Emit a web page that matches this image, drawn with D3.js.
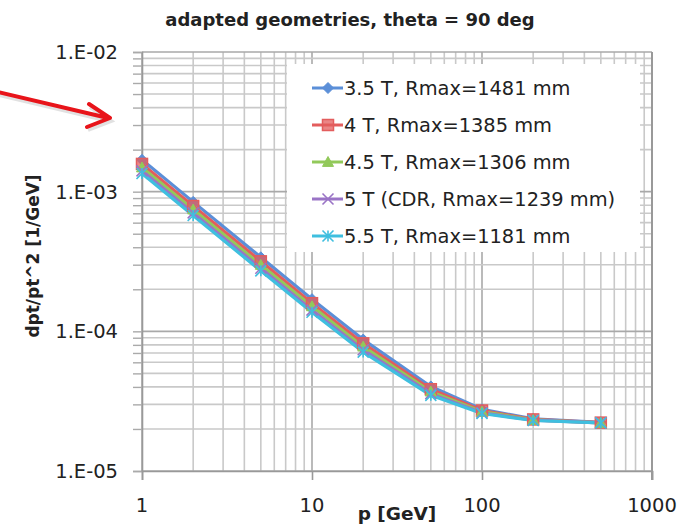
<!DOCTYPE html>
<html>
<head>
<meta charset="utf-8">
<script src="https://cdn.jsdelivr.net/npm/d3@7"></script>
<style>
  body { margin: 0; background: #fff; }
  text { font-family: "DejaVu Sans", sans-serif; fill: #222; }
</style>
</head>
<body>
<div id="chart-area"></div>
<script>
// momentum points [GeV]
const momenta = [1, 2, 5, 10, 20, 50, 100, 200, 500];

// dpt/pt^2 [1/GeV] per field configuration
const b35 = [1.69e-3, 8.45e-4, 3.39e-4, 1.70e-4, 8.73e-5, 4.03e-5, 2.77e-5, 2.36e-5, 2.23e-5];
const b40 = [1.58e-3, 7.90e-4, 3.17e-4, 1.59e-4, 8.20e-5, 3.85e-5, 2.71e-5, 2.34e-5, 2.22e-5];
const b45 = [1.49e-3, 7.45e-4, 2.99e-4, 1.51e-4, 7.77e-5, 3.70e-5, 2.66e-5, 2.32e-5, 2.21e-5];
const b50 = [1.41e-3, 7.05e-4, 2.83e-4, 1.42e-4, 7.38e-5, 3.58e-5, 2.61e-5, 2.31e-5, 2.21e-5];
const b55 = [1.35e-3, 6.75e-4, 2.71e-4, 1.37e-4, 7.10e-5, 3.48e-5, 2.58e-5, 2.30e-5, 2.21e-5];

const seriesNames = [
    '3.5 T, Rmax=1481 mm',
    '4 T, Rmax=1385 mm',
    '4.5 T, Rmax=1306 mm',
    '5 T (CDR, Rmax=1239 mm)',
    '5.5 T, Rmax=1181 mm'
];
const seriesValues = [b35, b40, b45, b50, b55];
const colors = ['#5b8fd8', '#e35d5d', '#92c95a', '#9a74c6', '#3fbfdf'];
const markers = ['diamond', 'square', 'triangle', 'x', 'star'];

const yTickLabels = ['1.E-05', '1.E-04', '1.E-03', '1.E-02'];
const xTickLabels = ['1', '10', '100', '1000'];

const W = 687, H = 525;
const plot = { left: 142, right: 652, top: 52, bottom: 471 };

const svg = d3.select('#chart-area')
    .append('svg')
    .attr('width', W)
    .attr('height', H);

const x = d3.scaleLog().domain([1, 1000]).range([plot.left, plot.right]);
const y = d3.scaleLog().domain([1e-5, 1e-2]).range([plot.bottom, plot.top]);

const isMajor = v => Math.abs(Math.log10(v) - Math.round(Math.log10(v))) < 1e-9;

// gridlines
svg.append('g')
    .selectAll('line')
    .data(x.ticks())
    .enter()
    .append('line')
    .attr('x1', d => x(d)).attr('x2', d => x(d))
    .attr('y1', plot.top).attr('y2', plot.bottom)
    .attr('stroke', d => isMajor(d) ? '#a9a9a9' : '#c9c9c9')
    .attr('stroke-width', 1.6);

svg.append('g')
    .selectAll('line')
    .data(y.ticks())
    .enter()
    .append('line')
    .attr('x1', plot.left).attr('x2', plot.right)
    .attr('y1', d => y(d)).attr('y2', d => y(d))
    .attr('stroke', d => isMajor(d) ? '#a9a9a9' : '#c9c9c9')
    .attr('stroke-width', 1.6);

// axes
const yAxis = d3.axisLeft(y)
    .tickValues(y.ticks())
    .tickSize(9)
    .tickFormat('');
svg.append('g')
    .attr('transform', `translate(${plot.left},0)`)
    .call(yAxis)
    .call(g => g.select('.domain').attr('stroke', '#999').attr('stroke-width', 1.6))
    .call(g => g.selectAll('.tick line').attr('stroke', '#aaa').attr('stroke-width', 1.4));

const xAxis = d3.axisBottom(x)
    .tickValues([1, 10, 100, 1000])
    .tickSize(9)
    .tickFormat('');
svg.append('g')
    .attr('transform', `translate(0,${plot.bottom})`)
    .call(xAxis)
    .call(g => g.select('.domain').attr('stroke', '#999').attr('stroke-width', 1.6))
    .call(g => g.selectAll('.tick line').attr('stroke', '#999').attr('stroke-width', 1.6));

// right border
svg.append('line')
    .attr('x1', plot.right).attr('x2', plot.right)
    .attr('y1', plot.top).attr('y2', plot.bottom + 9)
    .attr('stroke', '#999').attr('stroke-width', 2);

// tick labels
svg.append('g')
    .selectAll('text')
    .data([1e-5, 1e-4, 1e-3, 1e-2])
    .enter()
    .append('text')
    .attr('x', 118)
    .attr('y', d => y(d))
    .attr('dy', '0.36em')
    .attr('text-anchor', 'end')
    .style('font-size', '19.5px')
    .text((d, i) => yTickLabels[i]);

svg.append('g')
    .selectAll('text')
    .data([1, 10, 100, 1000])
    .enter()
    .append('text')
    .attr('x', d => x(d))
    .attr('y', 505)
    .attr('dy', '0.36em')
    .attr('text-anchor', 'middle')
    .style('font-size', '19.5px')
    .text((d, i) => xTickLabels[i]);

// legend background (drawn over grid)
const legend = { x: 287, y: 64, w: 353, h: 188 };
svg.append('rect')
    .attr('x', legend.x).attr('y', legend.y)
    .attr('width', legend.w).attr('height', legend.h)
    .attr('fill', '#fff');

function drawMarker(g, type, color, cx, cy) {
    const s = 5.5;
    if (type === 'diamond') {
        g.append('path')
            .attr('d', `M${cx},${cy - s}L${cx + s},${cy}L${cx},${cy + s}L${cx - s},${cy}Z`)
            .attr('fill', color).attr('stroke', color);
    } else if (type === 'square') {
        g.append('rect')
            .attr('x', cx - s).attr('y', cy - s)
            .attr('width', 2 * s).attr('height', 2 * s)
            .attr('fill', color).attr('fill-opacity', 0.75)
            .attr('stroke', color).attr('stroke-width', 1.5);
    } else if (type === 'triangle') {
        g.append('path')
            .attr('d', `M${cx},${cy - s}L${cx + s},${cy + s * 0.8}L${cx - s},${cy + s * 0.8}Z`)
            .attr('fill', color).attr('stroke', color);
    } else {
        g.append('path')
            .attr('d', `M${cx - s},${cy - s}L${cx + s},${cy + s}M${cx - s},${cy + s}L${cx + s},${cy - s}` +
                (type === 'star' ? `M${cx},${cy - s}L${cx},${cy + s}` : ''))
            .attr('fill', 'none').attr('stroke', color).attr('stroke-width', 1.6);
    }
}

// series lines
const line = d3.line()
    .x(d => x(d[0]))
    .y(d => y(d[1]));

seriesValues.forEach((vals, i) => {
    const pts = momenta.map((p, j) => [p, vals[j]]);
    svg.append('path')
        .datum(pts)
        .attr('fill', 'none')
        .attr('stroke', colors[i])
        .attr('stroke-width', 3.2)
        .attr('stroke-linejoin', 'round')
        .attr('d', line);
});

seriesValues.forEach((vals, i) => {
    const g = svg.append('g');
    momenta.forEach((p, j) => drawMarker(g, markers[i], colors[i], x(p), y(vals[j])));
});

// legend entries
const legendRows = [88, 125, 162, 199, 236];
seriesNames.forEach((name, i) => {
    const g = svg.append('g');
    g.append('line')
        .attr('x1', 312).attr('x2', 343)
        .attr('y1', legendRows[i]).attr('y2', legendRows[i])
        .attr('stroke', colors[i]).attr('stroke-width', 3);
    drawMarker(g, markers[i], colors[i], 328, legendRows[i]);
    g.append('text')
        .attr('x', 344)
        .attr('y', legendRows[i])
        .attr('dy', '0.36em')
        .style('font-size', '19.4px')
        .text(name);
});

// title and axis labels
svg.append('text')
    .attr('x', 350)
    .attr('y', 20)
    .attr('dy', '0.36em')
    .attr('text-anchor', 'middle')
    .style('font-size', '18px')
    .style('font-weight', 'bold')
    .text('adapted geometries, theta = 90 deg');

svg.append('text')
    .attr('transform', 'rotate(-90)')
    .attr('x', -256)
    .attr('y', 33)
    .attr('dy', '0.36em')
    .attr('text-anchor', 'middle')
    .style('font-size', '17px')
    .style('font-weight', 'bold')
    .text('dpt/pt^2 [1/GeV]');

svg.append('text')
    .attr('x', 397)
    .attr('y', 513)
    .attr('dy', '0.36em')
    .attr('text-anchor', 'middle')
    .style('font-size', '18.5px')
    .style('font-weight', 'bold')
    .text('p [GeV]');

// red annotation arrow
const arrow = svg.append('g');
arrow.append('path')
    .attr('d', 'M-2,92 L108,118 M89,104 L110,118 L87,127')
    .attr('fill', 'none')
    .attr('stroke', '#888')
    .attr('stroke-opacity', 0.25)
    .attr('stroke-width', 4)
    .attr('transform', 'translate(1,3)');
arrow.append('path')
    .attr('d', 'M-2,92 L108,118 M89,104 L110,118 L87,127')
    .attr('fill', 'none')
    .attr('stroke', '#e8141a')
    .attr('stroke-width', 4)
    .attr('stroke-linecap', 'round')
    .attr('stroke-linejoin', 'round');
</script>
</body>
</html>
